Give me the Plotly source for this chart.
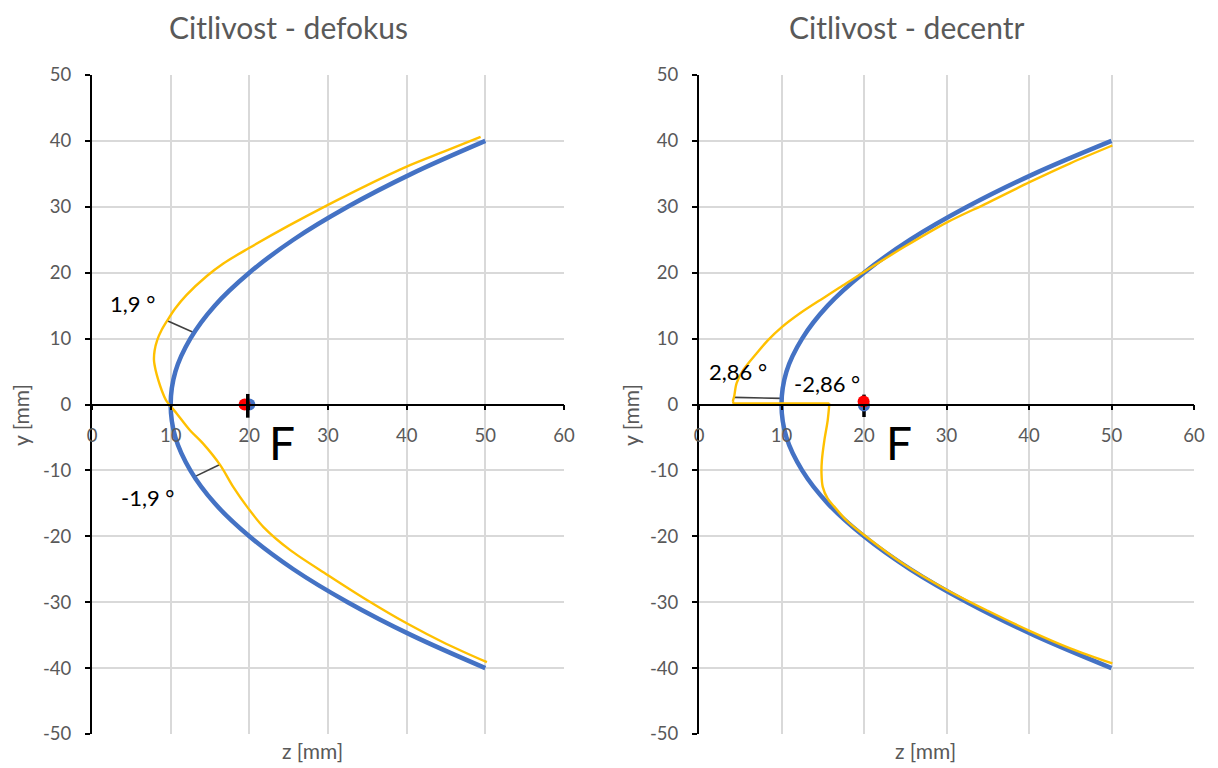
import plotly.graph_objects as go

W, H = 1218, 768
FONT = "Lato"
GRAY = "#595959"
BLUE = "#4472C4"
YELLOW = "#FFC000"
DARK = "#404040"

# ---- axis ticks ----
z_ticks = [0, 10, 20, 30, 40, 50, 60]
z_tick_text = ["0", "10", "20", "30", "40", "50", "60"]
y_ticks = [-50, -40, -30, -20, -10, 0, 10, 20, 30, 40, 50]
y_tick_text = ["-50", "-40", "-30", "-20", "-10", "0", "10", "20", "30", "40", "50"]

# ---- reflector profile (blue), shared by both panels ----
ref_y = [-40, -35, -30, -25, -20, -15, -10, -5, 0, 5, 10, 15, 20, 25, 30, 35, 40]
ref_z = [50.0, 40.6, 32.5, 25.6, 20.0, 15.6, 12.5, 10.6, 10.0, 10.6, 12.5, 15.6, 20.0, 25.6, 32.5, 40.6, 50.0]

# ---- defocus response (yellow, left panel) ----
defok_z = [49.4, 44.8, 40.0, 35.0, 30.0, 24.95, 19.9, 16.7, 14.6, 12.0, 10.6, 9.6, 8.85, 8.3, 7.96, 7.88,
           8.09, 8.43, 8.85, 9.4, 10.76, 12.45, 14.1, 16.3, 17.95, 19.7, 21.8, 25.2, 30.0, 35.0, 40.0, 45.0, 50.2]
defok_y = [40.6, 38.4, 36.1, 33.3, 30.3, 27.1, 23.7, 21.4, 19.5, 16.6, 14.6, 12.8, 11.3, 9.8, 8.2, 6.7,
           5.2, 3.7, 2.2, 0.67, -1.35, -3.9, -5.9, -9.2, -12.5, -15.5, -18.6, -22.1, -25.9, -29.7, -33.2, -36.3, -39.1]

# ---- decentre response (yellow, right panel), three pieces ----
dec_top_z = [50.1, 45.0, 40.0, 35.0, 30.0, 25.0, 19.85, 17.0, 15.0, 12.2, 10.0, 8.37, 6.97, 5.35, 4.55, 4.26, 4.1]
dec_top_y = [39.3, 36.6, 33.7, 30.6, 27.6, 24.0, 20.0, 17.7, 16.1, 13.8, 11.7, 9.77, 7.75, 5.22, 3.2, 1.2, 0.5]
dec_mid_z = [4.1, 4.2, 15.8]
dec_mid_y = [0.5, 0.15, 0.15]
dec_bot_z = [15.8, 15.6, 15.2, 14.9, 14.85, 15.0, 15.6, 16.4, 17.8, 20.2, 25.0, 30.0, 35.0, 40.0, 45.0, 50.1]
dec_bot_y = [0.15, -2.4, -5.4, -8.4, -10.5, -12.5, -14.3, -15.5, -17.5, -20.0, -24.4, -28.1, -31.3, -34.3, -37.0, -39.3]

# ---- angle connectors between the two profiles ----
conn_left = [([9.57, 13.0], [12.7, 10.9]), ([16.26, 12.87], [-9.1, -11.06])]
conn_right = [([4.27, 9.98], [1.08, 0.93]), ([10.0, 15.8], [0.1, 0.1])]

# angle labels: (z, y, text)
lab_left = [(5.2, 15.4, "1,9 °"), (7.1, -14.05, "-1,9 °")]
lab_right = [(4.7, 5.07, "2,86 °"), (15.5, 3.25, "-2,86 °")]

# focus marks
focus_left = dict(blue=(20.0, 0.0), red=(19.4, 0.0), bar_z=19.8, bar_y=(1.6, -2.0))
focus_right = dict(blue=(20.0, -0.15), red=(19.95, 0.45), bar_z=20.0, bar_y=(1.5, -1.9))
focus_label = (24.2, -5.8, "F")

titles = ["Citlivost - defokus", "Citlivost - decentr"]

# ---- layout geometry (paper fractions) ----
xdom_l = [92 / W, 564 / W]
xdom_r = [699 / W, 1194 / W]
ydom = [1 - 734 / H, 1 - 75 / H]
y_zero_pos = ydom[0] + 0.5 * (ydom[1] - ydom[0])

fig = go.Figure()


def add_panel(xa, ya, yellow_pieces, conns, focus, bar_on_top):
    for cz, cy in conns:
        fig.add_trace(go.Scatter(x=cz, y=cy, mode="lines", xaxis=xa, yaxis=ya,
                                 line=dict(color=DARK, width=1.6), hoverinfo="skip"))
    fig.add_trace(go.Scatter(x=ref_z, y=ref_y, mode="lines", xaxis=xa, yaxis=ya,
                             line=dict(color=BLUE, width=4.5, shape="spline", smoothing=1.0)))
    for pz, py, shape in yellow_pieces:
        fig.add_trace(go.Scatter(x=pz, y=py, mode="lines", xaxis=xa, yaxis=ya,
                                 line=dict(color=YELLOW, width=2.4, shape=shape, smoothing=0.9)))
    bar = go.Scatter(x=[focus["bar_z"], focus["bar_z"]], y=list(focus["bar_y"]), mode="lines",
                     xaxis=xa, yaxis=ya, line=dict(color="black", width=3.5))
    if not bar_on_top:
        fig.add_trace(bar)
    fig.add_trace(go.Scatter(x=[focus["blue"][0]], y=[focus["blue"][1]], mode="markers",
                             xaxis=xa, yaxis=ya, marker=dict(color=BLUE, size=12)))
    fig.add_trace(go.Scatter(x=[focus["red"][0]], y=[focus["red"][1]], mode="markers",
                             xaxis=xa, yaxis=ya, marker=dict(color="#FF0000", size=12)))
    if bar_on_top:
        fig.add_trace(bar)


add_panel("x", "y", [(defok_z, defok_y, "spline")], conn_left, focus_left, True)
add_panel("x2", "y2", [(dec_top_z, dec_top_y, "spline"), (dec_mid_z, dec_mid_y, "linear"),
                       (dec_bot_z, dec_bot_y, "spline")], conn_right, focus_right, False)

tickfont = dict(family=FONT, size=18.5, color=GRAY)


def xaxis_cfg(dom):
    return dict(domain=dom, range=[0, 60], tickmode="array", tickvals=z_ticks,
                ticktext=z_tick_text, showgrid=True,
                gridcolor="#d9d9d9", gridwidth=1.6, zeroline=False, showline=True,
                linecolor="black", linewidth=1.8, ticks="outside", ticklen=5,
                tickcolor="black", tickwidth=1.6, anchor="free", automargin=False,
                position=y_zero_pos, tickfont=tickfont, ticklabelstandoff=9)


def yaxis_cfg(xname):
    return dict(domain=ydom, range=[-50, 50], tickmode="array", tickvals=y_ticks,
                ticktext=y_tick_text, showgrid=True,
                gridcolor="#d9d9d9", gridwidth=1.6, zeroline=False, showline=True,
                linecolor="black", linewidth=2, ticks="outside", ticklen=5,
                tickcolor="black", tickwidth=1.6, anchor=xname, automargin=False,
                tickfont=tickfont, ticklabelstandoff=10)


annotations = []
for z, yv, t in lab_left:
    annotations.append(dict(x=z, y=yv, xref="x", yref="y", text=t, showarrow=False,
                            font=dict(family=FONT, size=22, color="black")))
for z, yv, t in lab_right:
    annotations.append(dict(x=z, y=yv, xref="x2", yref="y2", text=t, showarrow=False,
                            font=dict(family=FONT, size=22, color="black")))
for xr_, yr_ in (("x", "y"), ("x2", "y2")):
    annotations.append(dict(x=focus_label[0], y=focus_label[1], xref=xr_, yref=yr_,
                            text=focus_label[2], showarrow=False,
                            font=dict(family=FONT, size=46, color="black")))

for cx, t in ((288, titles[0]), (906, titles[1])):
    annotations.append(dict(x=cx / W, y=1 - 27 / H, xref="paper", yref="paper", text=t,
                            xanchor="center", yanchor="middle", showarrow=False,
                            font=dict(family=FONT, size=30, color=GRAY)))
for cx in (312, 925):
    annotations.append(dict(x=cx / W, y=1 - 750 / H, xref="paper", yref="paper",
                            text="z [mm]", xanchor="center", yanchor="middle", showarrow=False,
                            font=dict(family=FONT, size=21, color=GRAY)))
for cx in (20, 630):
    annotations.append(dict(x=cx / W, y=1 - 415 / H, xref="paper", yref="paper",
                            text="y [mm]", xanchor="center", yanchor="middle",
                            showarrow=False, textangle=-90,
                            font=dict(family=FONT, size=21, color=GRAY)))

fig.update_layout(
    width=W, height=H, margin=dict(l=0, r=0, t=0, b=0, autoexpand=False),
    paper_bgcolor="white", plot_bgcolor="white", showlegend=False,
    font=dict(family=FONT),
    xaxis=xaxis_cfg(xdom_l), yaxis=yaxis_cfg("x"),
    xaxis2=xaxis_cfg(xdom_r), yaxis2=yaxis_cfg("x2"),
    annotations=annotations,
)

fig.write_html("out.html",
               post_script="document.body.style.margin='0';document.body.style.overflow='hidden';")
